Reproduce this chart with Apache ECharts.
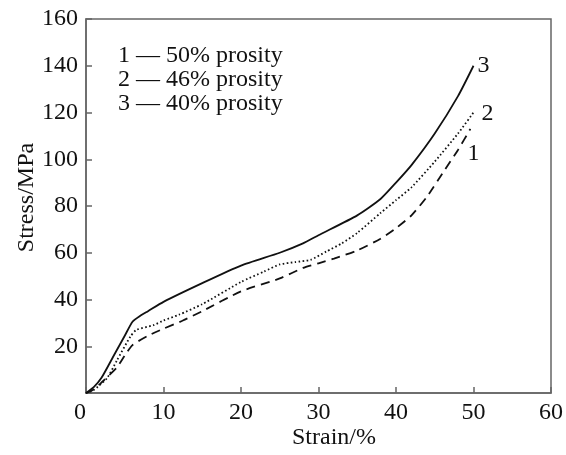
<!DOCTYPE html>
<html>
<head>
<meta charset="utf-8">
<script src="https://cdn.jsdelivr.net/npm/echarts@6/dist/echarts.min.js"></script>
<style>
html,body{margin:0;padding:0;background:#fff;}
#chart{width:566px;height:455px;}
</style>
</head>
<body>
<div id="chart"></div>
<script>
// ---- data ----
var seriesNames = ['50% prosity', '46% prosity', '40% prosity'];
var curveIds = ['1', '2', '3'];

var strain1 = [0, 1, 2, 4, 5, 6, 8, 10, 12.5, 15, 20, 25, 28, 30, 32, 35, 38, 40, 42, 44, 46, 48, 49.6];
var stress1 = [0, 1.5, 4.5, 11, 16, 20.5, 24.5, 27.5, 31, 35, 43.5, 49, 53.5, 55.5, 57.5, 61, 66, 70.5, 76, 84, 94, 104, 113];

var strain2 = [0, 1, 2.7, 4, 5.7, 6.5, 8.7, 10, 12, 15, 20, 23, 25, 27, 29, 31, 33, 35, 38, 40, 42, 45, 48, 50];
var stress2 = [0, 1.3, 6.3, 14, 24, 27, 29, 31, 33.5, 38, 47.5, 52, 55, 56, 57, 60.5, 64, 68.5, 77, 82.5, 88, 99, 111, 120];

var strain3 = [0, 1, 2, 3.5, 5, 6, 7, 8, 10, 15, 20, 25, 28, 30, 35, 38, 40, 42, 45, 48, 50];
var stress3 = [0, 2.5, 6.5, 15.5, 24.5, 30.5, 33, 35, 39, 47, 54.5, 60, 64, 67.5, 76, 83, 90, 97.5, 111, 127, 140];

var xTicks = [0, 10, 20, 30, 40, 50, 60];
var yTicks = [0, 20, 40, 60, 80, 100, 120, 140, 160];

function pairs(xs, ys) { return xs.map(function (x, i) { return [x, ys[i]]; }); }

var FONT = "'Liberation Serif', 'Times New Roman', serif";
var FS = 24;
var chart = echarts.init(document.getElementById('chart'));

var lineStyles = [
  { color: '#111', width: 1.8, type: [9, 6] },
  { color: '#111', width: 1.8, type: [1.6, 2.4] },
  { color: '#111', width: 1.8, type: 'solid' }
];
var endOffsets = [[-11, 25], [0, 1], [-4, 0]];
var dataSets = [pairs(strain1, stress1), pairs(strain2, stress2), pairs(strain3, stress3)];

var series = dataSets.map(function (d, i) {
  return {
    name: seriesNames[i],
    type: 'line',
    data: d,
    symbol: 'none',
    smooth: 0.2,
    lineStyle: lineStyles[i],
    itemStyle: { color: '#111' },
    animation: false,
    endLabel: {
      show: true,
      formatter: curveIds[i],
      color: '#111',
      fontFamily: FONT,
      fontSize: FS,
      offset: endOffsets[i]
    }
  };
});

chart.setOption({
  backgroundColor: '#fff',
  animation: false,
  grid: { left: 86, right: 15, top: 19, bottom: 62, show: true, borderColor: '#666', borderWidth: 1.5, backgroundColor: 'transparent' },
  legend: {
    orient: 'vertical',
    left: 108,
    top: 39,
    icon: 'none',
    itemWidth: 0,
    itemGap: 0,
    selectedMode: false,
    data: seriesNames,
    formatter: function (name) {
      return curveIds[seriesNames.indexOf(name)] + ' \u2014 ' + name;
    },
    textStyle: { fontFamily: FONT, fontSize: FS, color: '#111', lineHeight: 23.5 }
  },
  xAxis: {
    type: 'value',
    min: xTicks[0],
    max: xTicks[xTicks.length - 1],
    interval: 10,
    name: 'Strain/%',
    nameLocation: 'middle',
    nameGap: 33,
    nameMoveOverlap: false,
    nameTextStyle: { fontFamily: FONT, fontSize: FS, color: '#111', padding: [0, 0, 0, 31] },
    axisLine: { show: true, lineStyle: { color: '#666', width: 1.5 } },
    axisTick: { show: true, inside: true, length: 6, lineStyle: { color: '#666', width: 1.5 } },
    axisLabel: {
      fontFamily: FONT, fontSize: FS, color: '#111', margin: 8,
      formatter: function (v) { return v === 0 ? '{z|0}' : String(v); },
      rich: { z: { fontFamily: FONT, fontSize: FS, color: '#111', padding: [0, 12, 0, 0], lineHeight: 12, verticalAlign: 'top' } }
    },
    splitLine: { show: false }
  },
  yAxis: {
    type: 'value',
    min: yTicks[0],
    max: yTicks[yTicks.length - 1],
    interval: 20,
    name: 'Stress/MPa',
    nameLocation: 'middle',
    nameGap: 47,
    nameMoveOverlap: false,
    nameTextStyle: { fontFamily: FONT, fontSize: FS, color: '#111', padding: [0, 0, 0, 17] },
    axisLine: { show: true, lineStyle: { color: '#666', width: 1.5 } },
    axisTick: { show: true, inside: true, length: 6, lineStyle: { color: '#666', width: 1.5 } },
    axisLabel: {
      fontFamily: FONT, fontSize: FS, color: '#111', margin: 8,
      formatter: function (v) { return v === 0 ? '' : String(v); }
    },
    splitLine: { show: false }
  },
  series: series
});
</script>
</body>
</html>
